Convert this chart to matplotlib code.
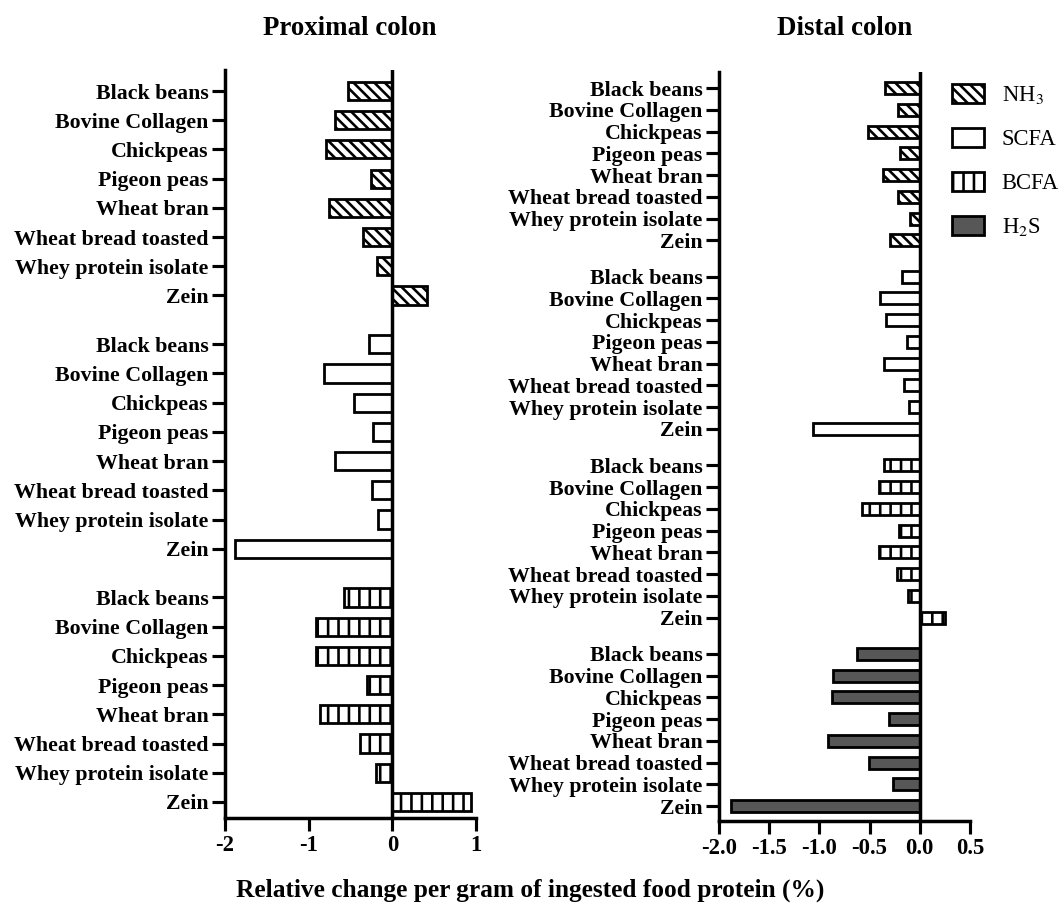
#!/usr/bin/env python
"""
plot.py
Relative change of fermentation metabolites per gram of ingested food protein,
proximal vs distal colon (horizontal bar panels, hatched by metabolite).
"""

import numpy as np
import matplotlib
matplotlib.use("Agg")
import matplotlib.pyplot as plt
from matplotlib.patches import Patch

plt.rcParams["font.family"] = ["Liberation Serif", "DejaVu Serif"]
plt.rcParams["mathtext.fontset"] = "stix"
plt.rcParams["axes.unicode_minus"] = False
plt.rcParams["hatch.linewidth"] = 1.5

FOODS = ["Black beans", "Bovine Collagen", "Chickpeas", "Pigeon peas",
         "Wheat bran", "Wheat bread toasted", "Whey protein isolate", "Zein"]

# proximal colon
prox_nh3  = [-0.53, -0.68, -0.79, -0.26, -0.76, -0.35, -0.18, 0.41]
prox_scfa = [-0.28, -0.82, -0.46, -0.23, -0.68, -0.24, -0.17, -1.88]
prox_bcfa = [-0.58, -0.91, -0.91, -0.30, -0.86, -0.39, -0.20, 0.94]

# distal colon
dist_nh3  = [-0.35, -0.22, -0.52, -0.20, -0.37, -0.22, -0.10, -0.30]
dist_scfa = [-0.18, -0.40, -0.34, -0.13, -0.36, -0.16, -0.11, -1.06]
dist_bcfa = [-0.36, -0.41, -0.58, -0.21, -0.41, -0.23, -0.12, 0.25]
dist_h2s  = [-0.63, -0.86, -0.87, -0.31, -0.91, -0.51, -0.27, -1.88]

# metabolite -> (legend label, face colour, hatch)
STYLES = {
    "NH3":  (r"NH$_3$", "white",   "\\\\\\\\"),
    "SCFA": ("SCFA",    "white",   ""),
    "BCFA": ("BCFA",    "white",   "||"),
    "H2S":  (r"H$_2$S", "#575757", ""),
}

GAP = 0.67  # extra space between metabolite groups (in bar slots)


def draw_panel(ax, groups, bar_h, xlim, xticks, xticklabels, ylim):
    yticks, ylabels = [], []
    for g, (key, vals) in enumerate(groups):
        _, fc, hatch = STYLES[key]
        y = np.arange(len(FOODS)) + g * (len(FOODS) + GAP)
        ax.barh(y, vals, height=bar_h, color=fc, edgecolor="black",
                linewidth=1.6, hatch=hatch)
        yticks += list(y)
        ylabels += FOODS

    ax.axvline(0, color="black", lw=2.0, zorder=5)
    ax.set_yticks(yticks)
    ax.set_yticklabels(ylabels, fontweight="bold", fontsize=12.6)
    ax.set_xlim(*xlim)
    ax.set_xticks(xticks)
    ax.set_xticklabels(xticklabels, fontweight="bold", fontsize=13)
    ax.set_ylim(*ylim)

    for side in ("top", "right"):
        ax.spines[side].set_visible(False)
    for side in ("left", "bottom"):
        ax.spines[side].set_linewidth(2.0)
    ax.tick_params(axis="both", direction="out", length=7.5, width=1.8, pad=2)


def main():
    fig = plt.figure(figsize=(1063 / 125, 909 / 125), dpi=125)

    ax1 = fig.add_axes([0.2117, 0.1001, 0.2361, 0.8229])
    draw_panel(ax1, [("NH3", prox_nh3), ("SCFA", prox_scfa), ("BCFA", prox_bcfa)],
               bar_h=0.62, xlim=(-2, 1), xticks=[-2, -1, 0, 1],
               xticklabels=["-2", "-1", "0", "1"], ylim=(24.89, -0.72))

    ax2 = fig.add_axes([0.6764, 0.0968, 0.2361, 0.8240])
    draw_panel(ax2, [("NH3", dist_nh3), ("SCFA", dist_scfa),
                     ("BCFA", dist_bcfa), ("H2S", dist_h2s)],
               bar_h=0.55, xlim=(-2, 0.5),
               xticks=[-2.0, -1.5, -1.0, -0.5, 0.0, 0.5],
               xticklabels=["-2.0", "-1.5", "-1.0", "-0.5", "0.0", "0.5"],
               ylim=(33.69, -0.74))

    handles = [Patch(facecolor=fc, edgecolor="black", linewidth=1.6, hatch=h, label=lab)
               for lab, fc, h in STYLES.values()]
    fig.legend(handles=handles, loc="upper left",
               bbox_to_anchor=(952 / 1063, 1 - 84 / 909), frameon=False,
               fontsize=13, handlelength=1.4, handleheight=0.95,
               labelspacing=0.95, handletextpad=0.8, borderpad=0,
               borderaxespad=0)

    # panel titles sit on a common baseline above both axes
    fig.text(350 / 1063, 1 - 35 / 909, "Proximal colon", ha="center",
             va="baseline", fontweight="bold", fontsize=15.5)
    fig.text(845 / 1063, 1 - 35 / 909, "Distal colon", ha="center",
             va="baseline", fontweight="bold", fontsize=15.5)
    fig.text(530 / 1063, 1 - 890 / 909,
             "Relative change per gram of ingested food protein (%)",
             ha="center", va="center", fontweight="bold", fontsize=14.6)

    fig.savefig("out.png", dpi=125)
    plt.close(fig)


if __name__ == "__main__":
    main()
